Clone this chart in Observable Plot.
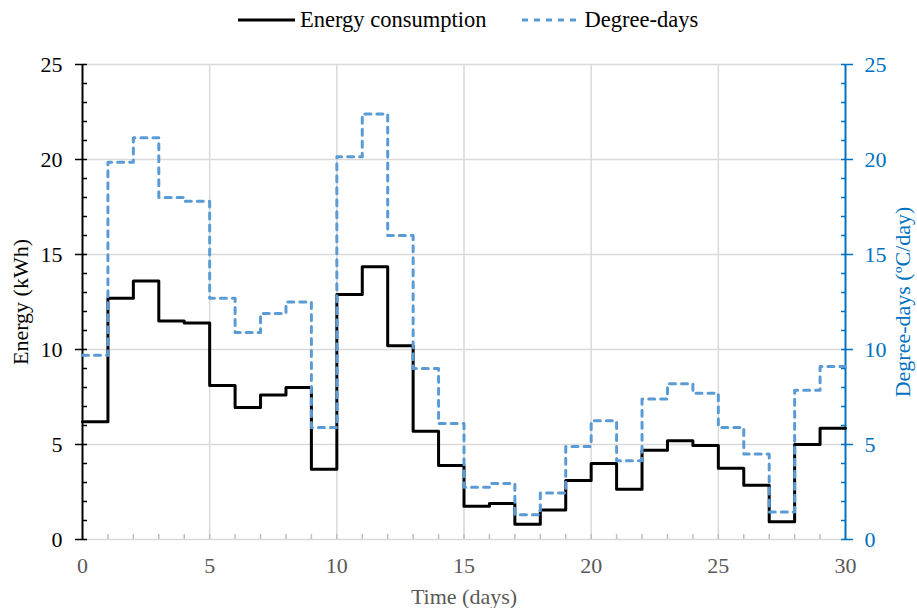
<!DOCTYPE html>
<html>
<head>
<meta charset="utf-8">
<script src="https://cdn.jsdelivr.net/npm/d3@7"></script>
<script src="https://cdn.jsdelivr.net/npm/@observablehq/plot@0.6"></script>
<style>
  body { margin: 0; background: white; font-family: "Liberation Serif", "Times New Roman", serif; }
  #legend { height: 40px; display: flex; align-items: center; padding-left: 237px; font-size: 22.5px; color: #000; }
  #legend .item { display: flex; align-items: center; }
  #legend svg { display: block; }
</style>
</head>
<body>
<div id="legend">
  <div class="item"><svg width="60" height="10"><line x1="1" y1="5" x2="58" y2="5" stroke="black" stroke-width="3"/></svg><span style="margin-left:3px">Energy consumption</span></div>
  <div class="item" style="margin-left:34px"><svg width="62" height="10"><line x1="2" y1="5" x2="60" y2="5" stroke="#5B9BD5" stroke-width="3" stroke-dasharray="6,6"/></svg><span style="margin-left:2px">Degree-days</span></div>
</div>
<div id="chart"></div>
<script>
const days = d3.range(0, 30);
const energy = [6.2, 12.7, 13.6, 11.5, 11.4, 8.1, 6.95, 7.6, 8.0, 3.7,
                12.9, 14.35, 10.2, 5.7, 3.9, 1.75, 1.9, 0.8, 1.55, 3.1,
                4.0, 2.65, 4.7, 5.2, 4.95, 3.75, 2.85, 0.93, 5.0, 5.85];
const degreeDays = [9.7, 19.85, 21.15, 18.0, 17.8, 12.7, 10.9, 11.9, 12.5, 5.9,
                    20.15, 22.4, 16.0, 9.0, 6.1, 2.75, 2.95, 1.3, 2.45, 4.9,
                    6.25, 4.15, 7.4, 8.2, 7.7, 5.9, 4.5, 1.45, 7.85, 9.1];
const xTicks = [0, 5, 10, 15, 20, 25, 30];
const yTicks = [0, 5, 10, 15, 20, 25];
const xMinor = d3.range(0, 31);
const yMinor = d3.range(0, 26);

// step rows: last value held until day 30
const rows = days.map((d, i) => ({day: d, energy: energy[i], dd: degreeDays[i]}));
rows.push({day: 30, energy: energy[29], dd: degreeDays[29]});

const blue = "#0070C0";
const grid = "#d9d9d9";
const serif = "Liberation Serif";
const fs = 22;

const chart = Plot.plot({
  width: 917,
  height: 568,
  marginLeft: 82,
  marginRight: 72,
  marginTop: 24,
  marginBottom: 69,
  style: {fontFamily: serif, fontSize: fs + "px", background: "white", overflow: "visible"},
  x: {domain: [0, 30]},
  y: {domain: [0, 25]},
  marks: [
    Plot.gridX([5, 10, 15, 20, 25], {stroke: grid, strokeOpacity: 1, strokeWidth: 1.5}),
    Plot.gridY(yTicks, {stroke: grid, strokeOpacity: 1, strokeWidth: 1.5}),
    // x axis: minor ticks inside, labels
    Plot.axisX(xMinor, {tickSize: -5, fill: "none", stroke: "#bfbfbf", strokeWidth: 1.5, label: null}),
    Plot.axisX(xTicks, {tickSize: 0, tickPadding: 18, fill: "#595959", fontFamily: serif, fontSize: fs, label: "Time (days)", labelAnchor: "center", labelOffset: 64, labelArrow: "none"}),
    // left axis
    Plot.ruleX([0], {stroke: "black", strokeWidth: 2}),
    Plot.axisY(yMinor, {anchor: "left", tickSize: -5, fill: "none", stroke: "black", strokeWidth: 1.5, label: null}),
    Plot.axisY(yTicks, {anchor: "left", tickSize: 7, tickPadding: 13, stroke: "black", strokeWidth: 1.5, fill: "black", fontFamily: serif, fontSize: fs, label: "Energy (kWh)", labelAnchor: "center", labelOffset: 70, labelArrow: "none"}),
    // right axis
    Plot.ruleX([30], {stroke: blue, strokeWidth: 2}),
    Plot.axisY(yMinor, {anchor: "right", tickSize: -5, fill: "none", stroke: blue, strokeWidth: 1.5, label: null}),
    Plot.axisY(yTicks, {anchor: "right", tickSize: 7, tickPadding: 12, stroke: blue, strokeWidth: 1.5, fill: blue, fontFamily: serif, fontSize: fs, label: "Degree-days (ºC/day)", labelAnchor: "center", labelOffset: 64, labelArrow: "none"}),
    // series
    Plot.line(rows, {x: "day", y: "energy", curve: "step-after", stroke: "black", strokeWidth: 3}),
    Plot.line(rows, {x: "day", y: "dd", curve: "step-after", stroke: "#5B9BD5", strokeWidth: 3, strokeDasharray: "6,6", strokeLinecap: "round"})
  ]
});
document.getElementById("chart").appendChild(chart);
</script>
</body>
</html>
